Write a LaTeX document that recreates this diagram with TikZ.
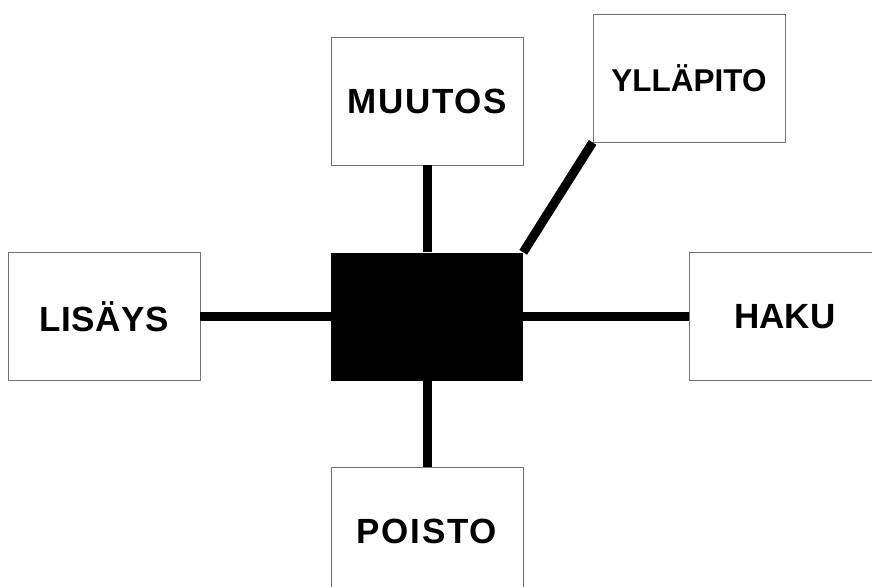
\documentclass[tikz,border=0pt]{standalone}
\usepackage{fontspec}
\usepackage{tikz}
\newfontfamily\laatikkofont{Liberation Sans}
\newcommand{\lev}{192pt}
\newcommand{\kor}{128pt}
\tikzstyle{laatikko}=[draw=black!55, line width=0.8pt, fill=white, minimum width=\lev, minimum height=\kor, inner sep=0, font=\laatikkofont\bfseries\fontsize{35}{40}\selectfont]
\tikzstyle{keskus}=[fill=black, minimum width=\lev, minimum height=\kor, inner sep=0]
\tikzstyle{yhteys}=[line width=9pt]
\begin{document}
\begin{tikzpicture}[x=1pt,y=-1pt]
\useasboundingbox (0,0) rectangle (872,586);
\clip (0,0) rectangle (872,586);

%laatikot
\node[keskus] (keskus) at (427,316.5) {};
\node[laatikko] (muutos) at (427,101) {\addfontfeature{LetterSpace=5}MUUTOS};
\node[laatikko,font=\laatikkofont\bfseries\fontsize{31.5}{36}\selectfont] (yllapito) at (689,78) {YLLÄPITO};
\node[laatikko] (lisays) at (104,316.5) {\addfontfeature{LetterSpace=2}LISÄYS};
\node[laatikko] (haku) at (785,316.5) {HAKU};
\node[laatikko] (poisto) at (427,531) {\addfontfeature{LetterSpace=5}POISTO};

%yhteydet
\draw[yhteys] (keskus.north) -- (muutos.south);
\draw[yhteys] (keskus.north east) -- (yllapito.south west);
\draw[yhteys] (keskus.west) -- (lisays.east);
\draw[yhteys] (keskus.east) -- (haku.west);
\draw[yhteys] (keskus.south) -- (poisto.north);
\end{tikzpicture}
\end{document}
